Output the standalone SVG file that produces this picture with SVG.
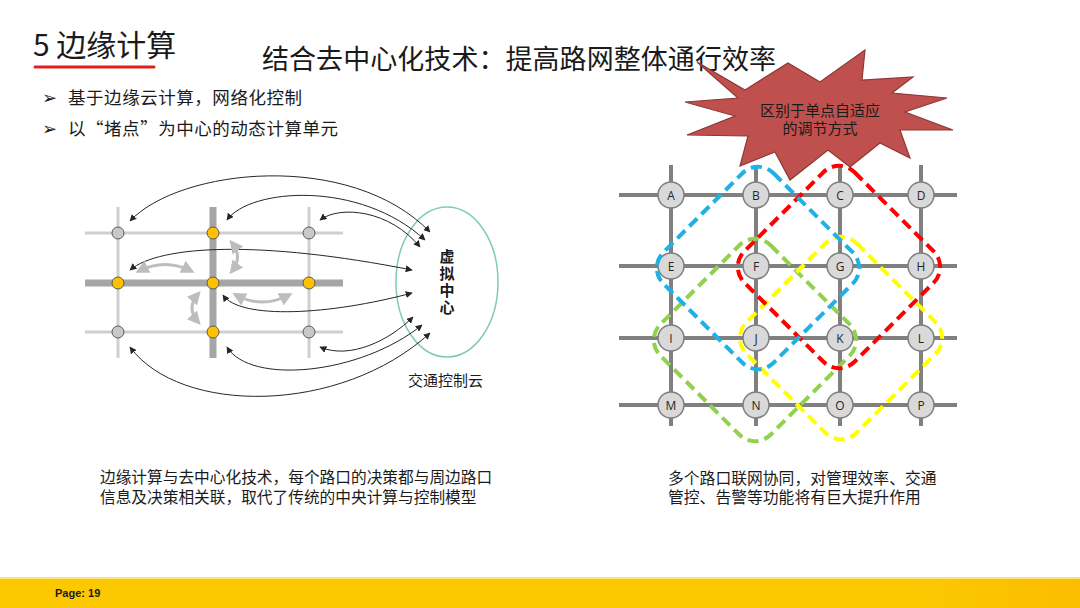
<svg xmlns="http://www.w3.org/2000/svg" width="1080" height="608" viewBox="0 0 1080 608">
<defs>
<style>
.cjk{font-family:"Noto Sans CJK SC","Noto Sans",sans-serif;fill:#1a1a1a}
.rl{stroke:#cfcfcf;stroke-width:3;fill:none}
.rd{stroke:#a6a6a6;stroke-width:7;fill:none}
.gn{fill:#c8c8c8;stroke:#5a5a5a;stroke-width:1}
.yn{fill:#ffc000;stroke:#5a5a5a;stroke-width:1}
.arc{stroke:#262626;stroke-width:1;fill:none;marker-start:url(#ah);marker-end:url(#ah)}
.garc{stroke:#bdbdbd;stroke-width:3;fill:none;marker-start:url(#gh);marker-end:url(#gh)}
.road{stroke:#808080;stroke-width:4;fill:none}
.nd{fill:#d9d9d9;stroke:#7f7f7f;stroke-width:1.5}
.lt{font-family:"Open Sans","Liberation Sans",sans-serif;font-size:12px;fill:#262626;text-anchor:middle}
.dash{fill:none;stroke-width:4;stroke-dasharray:11 6}
.bul{font-family:"DejaVu Sans",sans-serif;font-size:18px;fill:#1a1a1a}
</style>
<marker id="ah" viewBox="0 0 10 10" refX="9" refY="5" markerWidth="7" markerHeight="7" markerUnits="userSpaceOnUse" orient="auto-start-reverse">
<path d="M0,0 L10,5 L0,10 Z" fill="#262626"/>
</marker>
<marker id="gh" viewBox="0 0 10 10" refX="7" refY="5" markerWidth="4.5" markerHeight="4.5" orient="auto-start-reverse">
<path d="M0,0 L10,5 L0,10 Z" fill="#bdbdbd"/>
</marker>
<linearGradient id="foot" x1="0" y1="0" x2="1" y2="0">
<stop offset="0" stop-color="#fcc900"/>
<stop offset="0.85" stop-color="#fcc800"/>
<stop offset="1" stop-color="#fbbd00"/>
</linearGradient>
</defs>
<rect width="1080" height="608" fill="#ffffff"/>

<g id="section-title">
<text x="33" y="56" class="cjk" font-size="30">5 边缘计算</text>
<line x1="35" y1="67" x2="154" y2="67" stroke="#e41e1e" stroke-width="3" stroke-linecap="round"/>
</g>
<g id="main-title">
<text x="262" y="69" class="cjk" font-size="27" textLength="514">结合去中心化技术：提高路网整体通行效率</text>
</g>
<g id="bullets">
<text x="42" y="104" class="bul">➢</text>
<text x="68" y="104" class="cjk" font-size="17.5" textLength="234">基于边缘云计算，网络化控制</text>
<text x="42" y="135" class="bul">➢</text>
<text x="68" y="135" class="cjk" font-size="17.5" textLength="270">以“堵点”为中心的动态计算单元</text>
</g>

<g id="left-roads">
<line class="rl" x1="85" y1="233" x2="343" y2="233"/>
<line class="rl" x1="85" y1="332" x2="343" y2="332"/>
<line class="rl" x1="118" y1="207" x2="118" y2="358"/>
<line class="rl" x1="309" y1="207" x2="309" y2="358"/>
<line class="rd" x1="85" y1="283" x2="343" y2="283"/>
<line class="rd" x1="213" y1="207" x2="213" y2="358"/>
</g>
<g id="left-nodes">
<circle class="gn" cx="118" cy="233" r="6"/>
<circle class="yn" cx="213" cy="233" r="6"/>
<circle class="gn" cx="309" cy="233" r="6"/>
<circle class="yn" cx="118" cy="283" r="6"/>
<circle class="yn" cx="213" cy="283" r="6"/>
<circle class="yn" cx="309" cy="283" r="6"/>
<circle class="gn" cx="118" cy="332" r="6"/>
<circle class="yn" cx="213" cy="332" r="6"/>
<circle class="gn" cx="309" cy="332" r="6"/>
</g>
<g id="virtual-center">
<ellipse cx="447" cy="282" rx="51" ry="75" fill="none" stroke="#7fcbb4" stroke-width="1.5"/>
<text class="cjk" font-size="15" font-weight="bold" x="447" y="249" writing-mode="vertical-rl" letter-spacing="2">虚拟中心</text>
<text class="cjk" font-size="15" x="408" y="386" fill="#333">交通控制云</text>
</g>
<g id="left-connectors">
<path class="arc" d="M130,221 C180,168 350,150 430,232"/>
<path class="arc" d="M227,220 C250,188 360,180 425,240"/>
<path class="arc" d="M320,220 C340,205 390,210 420,247"/>
<path class="arc" d="M130,270 C160,245 260,240 412,270"/>
<path class="arc" d="M223,295 C240,320 330,315 412,293"/>
<path class="arc" d="M320,347 C350,360 390,340 413,317"/>
<path class="arc" d="M227,347 C250,385 360,375 422,325"/>
<path class="arc" d="M130,347 C180,415 340,415 430,333"/>
<path class="garc" d="M139,271 Q165,258 191,271"/>
<path class="garc" d="M232,243 Q243,257 232,271"/>
<path class="garc" d="M198,294 Q186,308 198,322"/>
<path class="garc" d="M236,295 Q262,309 289,295"/>
</g>

<g id="right-roads">
<line class="road" x1="619" y1="195" x2="957" y2="195"/>
<line class="road" x1="619" y1="266" x2="957" y2="266"/>
<line class="road" x1="619" y1="338" x2="957" y2="338"/>
<line class="road" x1="619" y1="405" x2="957" y2="405"/>
<line class="road" x1="671" y1="165" x2="671" y2="426"/>
<line class="road" x1="756" y1="165" x2="756" y2="426"/>
<line class="road" x1="840" y1="165" x2="840" y2="426"/>
<line class="road" x1="921" y1="165" x2="921" y2="426"/>
</g>
<g id="node-A"><circle class="nd" cx="671" cy="195" r="13"/><text class="lt" x="671" y="199.5">A</text></g>
<g id="node-B"><circle class="nd" cx="756" cy="195" r="13"/><text class="lt" x="756" y="199.5">B</text></g>
<g id="node-C"><circle class="nd" cx="840" cy="195" r="13"/><text class="lt" x="840" y="199.5">C</text></g>
<g id="node-D"><circle class="nd" cx="921" cy="195" r="13"/><text class="lt" x="921" y="199.5">D</text></g>
<g id="node-E"><circle class="nd" cx="671" cy="266" r="13"/><text class="lt" x="671" y="270.5">E</text></g>
<g id="node-F"><circle class="nd" cx="756" cy="266" r="13"/><text class="lt" x="756" y="270.5">F</text></g>
<g id="node-G"><circle class="nd" cx="840" cy="266" r="13"/><text class="lt" x="840" y="270.5">G</text></g>
<g id="node-H"><circle class="nd" cx="921" cy="266" r="13"/><text class="lt" x="921" y="270.5">H</text></g>
<g id="node-I"><circle class="nd" cx="671" cy="338" r="13"/><text class="lt" x="671" y="342.5">I</text></g>
<g id="node-J"><circle class="nd" cx="756" cy="338" r="13"/><text class="lt" x="756" y="342.5">J</text></g>
<g id="node-K"><circle class="nd" cx="840" cy="338" r="13"/><text class="lt" x="840" y="342.5">K</text></g>
<g id="node-L"><circle class="nd" cx="921" cy="338" r="13"/><text class="lt" x="921" y="342.5">L</text></g>
<g id="node-M"><circle class="nd" cx="671" cy="405" r="13"/><text class="lt" x="671" y="409.5">M</text></g>
<g id="node-N"><circle class="nd" cx="756" cy="405" r="13"/><text class="lt" x="756" y="409.5">N</text></g>
<g id="node-O"><circle class="nd" cx="840" cy="405" r="13"/><text class="lt" x="840" y="409.5">O</text></g>
<g id="node-P"><circle class="nd" cx="921" cy="405" r="13"/><text class="lt" x="921" y="409.5">P</text></g>

<g id="zones">
<rect class="dash" stroke="#92d050" x="-78" y="-78" width="156" height="156" rx="22" transform="translate(755,340) rotate(45)"/>
<rect class="dash" stroke="#ffff00" x="-78" y="-78" width="156" height="156" rx="22" transform="translate(841,338) rotate(45)"/>
<rect class="dash" stroke="#ff0000" x="-78" y="-78" width="156" height="156" rx="22" transform="translate(839,267) rotate(45)"/>
<rect class="dash" stroke="#1fb1e6" x="-78" y="-78" width="156" height="156" rx="22" transform="translate(758,268) rotate(45)"/>
</g>

<g id="starburst">
<polygon points="697,62 745,90 788,63 820,82 865,50 862,80 913,77 892,93 947,98 905,112 953,130 900,130 910,158 880,143 850,167 828,150 790,180 775,152 740,166 748,136 687,135 735,116 685,102 738,98" fill="#c0504d" stroke="#8c3836" stroke-width="1.2" stroke-linejoin="miter"/>
<text class="cjk" font-size="15" text-anchor="middle" fill="#2e1414"><tspan x="820" y="116">区别于单点自适应</tspan><tspan x="820" y="134">的调节方式</tspan></text>
</g>

<g id="captions">
<text class="cjk" font-size="15.7"><tspan x="100" y="483">边缘计算与去中心化技术，每个路口的决策都与周边路口</tspan><tspan x="100" y="503">信息及决策相关联，取代了传统的中央计算与控制模型</tspan></text>
<text class="cjk" font-size="15.8"><tspan x="668" y="484">多个路口联网协同，对管理效率、交通</tspan><tspan x="668" y="503">管控、告警等功能将有巨大提升作用</tspan></text>
</g>

<g id="footer">
<rect x="0" y="578" width="1080" height="30" fill="url(#foot)"/>
<rect x="0" y="577" width="1080" height="2" fill="#fde27a"/>
<text x="55" y="597" font-family="Liberation Sans,Arial,sans-serif" font-weight="bold" font-size="11" fill="#1a1a1a">Page: 19</text>
</g>
</svg>
